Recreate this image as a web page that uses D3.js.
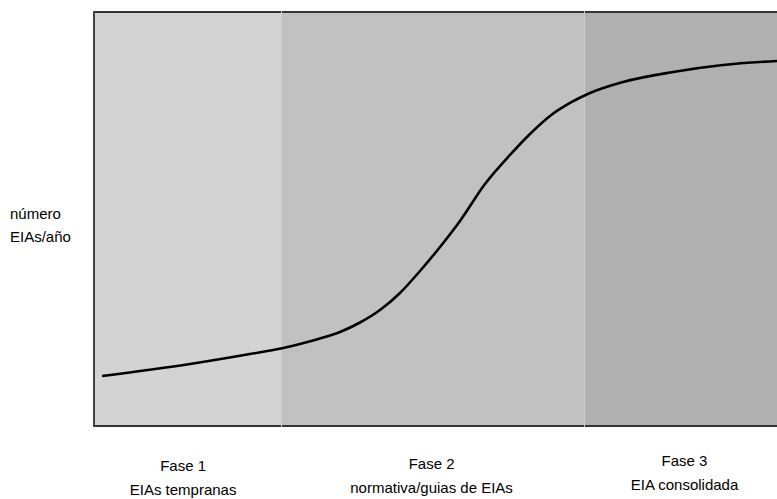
<!DOCTYPE html>
<html>
<head>
<meta charset="utf-8">
<script src="https://cdn.jsdelivr.net/npm/d3@7"></script>
<style>
  html, body { margin: 0; padding: 0; background: #fff; }
  svg { display: block; font-family: Arial, "Liberation Sans", sans-serif; }
</style>
</head>
<body>
<svg id="chart" width="777" height="499"></svg>
<script>
// ---- data ----
const phaseNames = ["Fase 1", "Fase 2", "Fase 3"];
const phaseSubtitles = ["EIAs tempranas", "normativa/guias de EIAs", "EIA consolidada"];
const phaseStart = [0, 27.3, 71.7];
const phaseEnd = [27.3, 71.7, 100];
const phaseColors = ["#d3d3d3", "#c1c1c1", "#b0b0b0"];
const yLabel = ["número", "EIAs/año"];
const curveX = [1.03, 13.93, 22.73, 27.27, 30.06, 32.99, 35.92, 38.86, 41.79, 44.72, 47.65, 50.59, 53.52, 57.18, 60.85, 63.78, 66.72, 69.65, 72.58, 77.42, 84.75, 92.08, 100];
const curveY = [12.08, 14.98, 17.39, 18.72, 19.81, 21.14, 22.71, 25.0, 28.02, 32.13, 37.44, 43.24, 49.52, 58.45, 65.46, 70.53, 74.88, 78.02, 80.43, 83.09, 85.51, 87.20, 88.16];

// ---- layout ----
const svg = d3.select("#chart");
const mLeft = 95, mRight = 777, mTop = 12, mBottom = 426;
const x = d3.scaleLinear().domain([0, 100]).range([mLeft, mRight]);
const y = d3.scaleLinear().domain([0, 100]).range([mBottom, mTop]);

// phase bands
svg.selectAll("rect.phase")
  .data(phaseNames)
  .join("rect")
  .attr("class", "phase")
  .attr("x", (d, i) => x(phaseStart[i]))
  .attr("y", mTop)
  .attr("width", (d, i) => x(phaseEnd[i]) - x(phaseStart[i]))
  .attr("height", mBottom - mTop)
  .attr("fill", (d, i) => phaseColors[i]);

// frame: top, left, bottom
svg.append("line").attr("x1", mLeft - 1).attr("x2", mRight).attr("y1", mTop).attr("y2", mTop)
  .attr("stroke", "#333").attr("stroke-width", 2);
svg.append("line").attr("x1", mLeft - 1).attr("x2", mRight).attr("y1", mBottom).attr("y2", mBottom)
  .attr("stroke", "#333").attr("stroke-width", 2);
svg.append("line").attr("x1", mLeft - 1).attr("x2", mLeft - 1).attr("y1", mTop - 1).attr("y2", mBottom + 1)
  .attr("stroke", "#444").attr("stroke-width", 2);

// phase dividers
svg.selectAll("line.div")
  .data(phaseStart.slice(1))
  .join("line")
  .attr("class", "div")
  .attr("x1", d => Math.round(x(d)) + 0.5)
  .attr("x2", d => Math.round(x(d)) + 0.5)
  .attr("y1", mTop - 1)
  .attr("y2", mBottom + 1)
  .attr("stroke", "#cacaca")
  .attr("stroke-width", 1);

// curve
const pts = curveX.map((v, i) => [v, curveY[i]]);
const line = d3.line().x(d => x(d[0])).y(d => y(d[1])).curve(d3.curveMonotoneX);
svg.append("path")
  .attr("d", line(pts))
  .attr("fill", "none")
  .attr("stroke", "#000")
  .attr("stroke-width", 2.6)
  .attr("stroke-linejoin", "round");

// y label
svg.append("text")
  .attr("x", 10).attr("y", 219)
  .attr("font-size", 15).attr("fill", "#000")
  .selectAll("tspan")
  .data(yLabel)
  .join("tspan")
  .attr("x", 10)
  .attr("dy", (d, i) => i === 0 ? 0 : 23)
  .text(d => d);

// phase labels
const labelOffsets = [-5, -1, 4];
const labelBase = [471, 469, 466];
phaseNames.forEach((name, i) => {
  const cx = (x(phaseStart[i]) + x(phaseEnd[i])) / 2 + labelOffsets[i];
  svg.append("text")
    .attr("x", cx).attr("y", labelBase[i])
    .attr("text-anchor", "middle").attr("font-size", 15).attr("fill", "#000")
    .text(name);
  svg.append("text")
    .attr("x", cx).attr("y", labelBase[i] + 24)
    .attr("text-anchor", "middle").attr("font-size", 15).attr("fill", "#000")
    .text(phaseSubtitles[i]);
});
</script>
</body>
</html>
